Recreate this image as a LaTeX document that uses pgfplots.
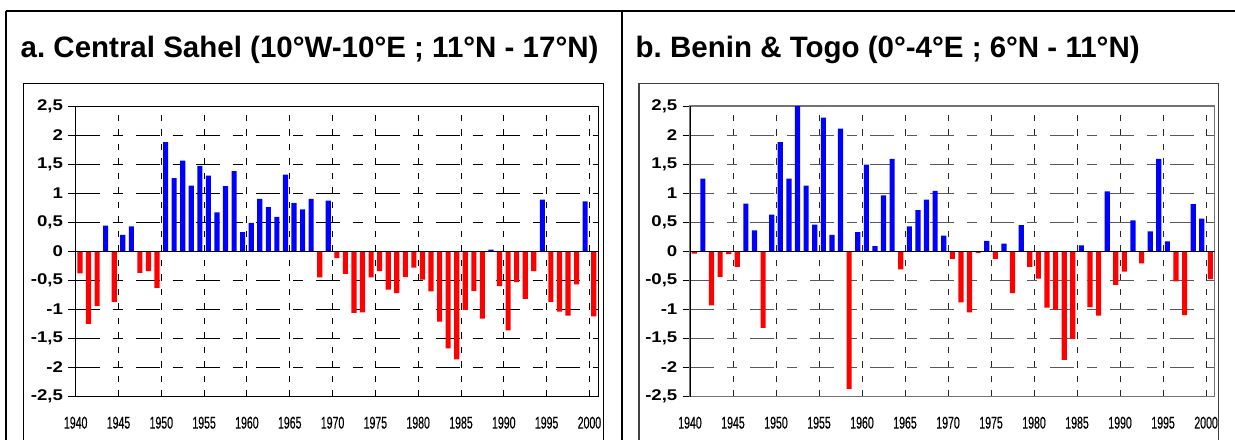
\documentclass[border=0pt]{standalone}
\usepackage{fontspec}
\setmainfont{Liberation Sans}
\newfontfamily\ylabfont[FakeStretch=1.2]{Liberation Sans}
\newfontfamily\xlabfont[FakeStretch=0.62,FakeBold=0.4]{Liberation Sans}
\usepackage{pgfplots}
\usepackage{pgfplotstable}
\pgfplotsset{compat=1.18}

\pgfplotstableread{
year val
1940 -0.38
1941 -1.25
1942 -0.94
1943 0.44
1944 -0.87
1945 0.28
1946 0.43
1947 -0.37
1948 -0.34
1949 -0.63
1950 1.88
1951 1.26
1952 1.56
1953 1.13
1954 1.47
1955 1.30
1956 0.67
1957 1.12
1958 1.38
1959 0.33
1960 0.49
1961 0.90
1962 0.76
1963 0.59
1964 1.32
1965 0.83
1966 0.72
1967 0.90
1968 -0.45
1969 0.87
1970 -0.12
1971 -0.39
1972 -1.06
1973 -1.05
1974 -0.45
1975 -0.34
1976 -0.66
1977 -0.72
1978 -0.44
1979 -0.28
1980 -0.49
1981 -0.69
1982 -1.21
1983 -1.67
1984 -1.86
1985 -1.01
1986 -0.68
1987 -1.16
1988 0.03
1989 -0.60
1990 -1.36
1991 -0.53
1992 -0.82
1993 -0.34
1994 0.89
1995 -0.87
1996 -1.04
1997 -1.11
1998 -0.57
1999 0.86
2000 -1.12
}\dataA

\pgfplotstableread{
year val
1940 -0.04
1941 1.25
1942 -0.93
1943 -0.44
1944 -0.05
1945 -0.27
1946 0.82
1947 0.36
1948 -1.32
1949 0.63
1950 1.88
1951 1.25
1952 2.53
1953 1.13
1954 0.46
1955 2.30
1956 0.28
1957 2.11
1958 -2.37
1959 0.33
1960 1.49
1961 0.09
1962 0.96
1963 1.59
1964 -0.31
1965 0.43
1966 0.71
1967 0.89
1968 1.04
1969 0.27
1970 -0.13
1971 -0.88
1972 -1.05
1973 -0.03
1974 0.18
1975 -0.13
1976 0.13
1977 -0.72
1978 0.45
1979 -0.27
1980 -0.47
1981 -0.97
1982 -1.01
1983 -1.87
1984 -1.51
1985 0.10
1986 -0.96
1987 -1.11
1988 1.03
1989 -0.58
1990 -0.35
1991 0.53
1992 -0.21
1993 0.34
1994 1.59
1995 0.17
1996 -0.52
1997 -1.10
1998 0.81
1999 0.56
2000 -0.48
}\dataB

\pgfplotsset{
  rainaxis/.style={
    scale only axis,
    height=290.5bp,
    xmin=1939.5, xmax=2000.5,
    ymin=-2.5, ymax=2.5,
    ytick={-2.5,-2,...,2.5},
    yticklabels={{-2,5},{-2},{-1,5},{-1},{-0,5},{0},{0,5},{1},{1,5},{2},{2,5}},
    xtick={1939.5,1944.5,...,1999.5},
    xticklabels={1940,1945,1950,1955,1960,1965,1970,1975,1980,1985,1990,1995,2000},
    ytick pos=left,
    xtick pos=bottom,
    tick align=outside,
    major tick length=7.5bp,
    major x tick style={draw=none},
    ymajorgrids, xmajorgrids,
    yticklabel style={font=\fontsize{15.5bp}{17bp}\selectfont\ylabfont\bfseries, anchor=east, inner sep=0pt, xshift=-5bp},
    xticklabel style={font=\fontsize{17bp}{18bp}\selectfont\xlabfont, anchor=north, inner sep=0pt, yshift=-12.5bp},
  }
}

\begin{document}
\begin{tikzpicture}
\path[use as bounding box] (0,0) rectangle (1235bp,-440bp);

% outer frame
\draw[line width=2bp] (6bp,-10.7bp) -- (1235bp,-10.7bp);
\draw[line width=2bp] (6bp,-10.7bp) -- (6bp,-440bp);
\draw[line width=2bp] (621.7bp,-10.7bp) -- (621.7bp,-440bp);

% titles
\node[anchor=base west, inner sep=0pt, font=\fontsize{29.5bp}{34bp}\selectfont\bfseries] at (20.5bp,-57.3bp) {a.\ Central Sahel (10°W-10°E ; 11°N - 17°N)};
\node[anchor=base west, inner sep=0pt, font=\fontsize{29.5bp}{34bp}\selectfont\bfseries] at (635.5bp,-57bp) {b.\ Benin \& Togo (0°-4°E ; 6°N - 11°N)};

% panel a
\begin{scope}
\clip (23.3bp,-83.3bp) rectangle (603bp,-440bp);
\begin{axis}[rainaxis,
  at={(75.7bp,-396.5bp)}, anchor=south west,
  width=522.3bp,
  axis line style={black, line width=0.9bp},
  x grid style={black, line width=0.9bp, dash pattern=on 6.5bp off 8bp},
  y grid style={black, line width=0.9bp, dash pattern=on 24bp off 13bp on 10bp off 13bp},
  major y tick style={black, line width=0.9bp},
]
\addplot[ybar, bar width=0.6, bar shift=0pt, fill=blue, draw=none, restrict y to domain=0:5] table[x=year, y=val] {\dataA};
\addplot[ybar, bar width=0.6, bar shift=0pt, fill=red, draw=none, restrict y to domain=-5:0] table[x=year, y=val] {\dataA};
\draw[black, line width=1bp] (axis cs:1939.5,0) -- (axis cs:2000.5,0);
\end{axis}
\end{scope}
\draw[line width=1bp] (23.3bp,-440bp) -- (23.3bp,-83.3bp) -- (603bp,-83.3bp) -- (603bp,-440bp);

% panel b
\begin{scope}
\clip (639bp,-83.3bp) rectangle (1218.5bp,-440bp);
\begin{axis}[rainaxis,
  at={(690bp,-396.5bp)}, anchor=south west,
  width=524.7bp,
  axis line style={black!55, line width=1.3bp},
  x grid style={black!85, line width=0.9bp, dash pattern=on 6.5bp off 8bp},
  y grid style={black!65, line width=0.9bp, dash pattern=on 24bp off 13bp on 10bp off 13bp},
  major y tick style={black, line width=0.9bp},
]
\addplot[ybar, bar width=0.6, bar shift=0pt, fill=blue, draw=none, restrict y to domain=0:5] table[x=year, y=val] {\dataB};
\addplot[ybar, bar width=0.6, bar shift=0pt, fill=red, draw=none, restrict y to domain=-5:0] table[x=year, y=val] {\dataB};
\draw[black, line width=1bp] (axis cs:1939.5,0) -- (axis cs:2000.5,0);
\draw[black, line width=1bp] (rel axis cs:0,0) -- (rel axis cs:0,1);
\end{axis}
\end{scope}
\draw[line width=1.5bp, black!75] (639bp,-440bp) -- (639bp,-83.3bp) -- (1218.5bp,-83.3bp) -- (1218.5bp,-440bp);
\end{tikzpicture}
\end{document}
